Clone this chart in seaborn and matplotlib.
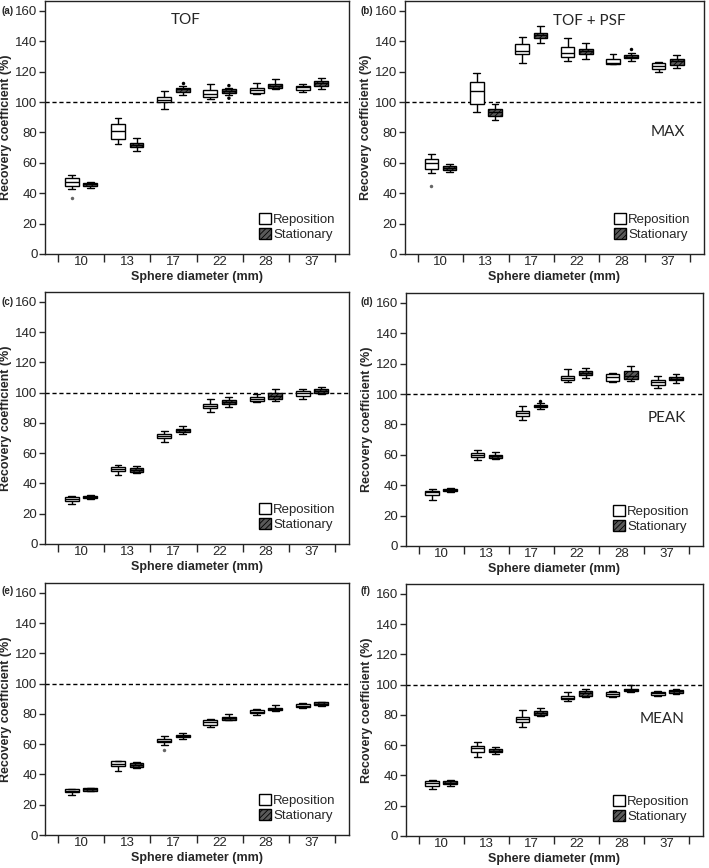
import numpy as np
import pandas as pd
import matplotlib
matplotlib.use("Agg")
import matplotlib.pyplot as plt
import seaborn as sns
from matplotlib.patches import Patch

diameters = ["10", "13", "17", "22", "28", "37"]
groups = ["Reposition", "Stationary"]

# five-number summaries per sphere: (low whisker, Q1, median, Q3, high whisker)
tof_rep = [(42.8, 45.0, 47.6, 49.8, 52.0), (72.4, 75.7, 81.2, 85.4, 89.3), (95.5, 100.3, 101.4, 103.6, 107.3),
           (101.9, 103.2, 105.1, 108.0, 112.0), (105.4, 106.2, 108.0, 109.3, 112.6), (106.5, 108.0, 109.7, 110.8, 112.0)]
tof_stat = [(43.2, 44.8, 46.0, 47.0, 47.4), (68.0, 70.2, 72.0, 73.3, 76.2), (104.7, 106.9, 108.4, 109.0, 110.6),
            (104.7, 106.2, 107.5, 108.4, 109.5), (108.4, 109.1, 110.6, 112.0, 115.2), (108.6, 110.8, 112.4, 113.9, 115.7)]

max_rep = [(53.3, 55.9, 59.9, 62.5, 66.0), (93.3, 99.0, 107.2, 113.1, 119.3), (125.9, 131.4, 133.6, 138.4, 143.0),
           (127.0, 129.8, 132.0, 136.4, 142.4), (124.8, 124.8, 125.9, 128.5, 131.4), (119.9, 121.9, 123.7, 125.9, 126.3)]
max_stat = [(54.1, 55.5, 56.8, 58.1, 59.2), (88.0, 91.1, 93.3, 95.5, 99.0), (138.6, 141.9, 143.9, 145.7, 150.0),
            (128.1, 131.4, 133.6, 134.7, 139.0), (127.0, 128.7, 129.8, 130.7, 132.0), (122.1, 124.3, 126.8, 128.1, 130.7)]

tofmax_rep = [(26.2, 28.6, 29.7, 31.2, 31.9), (45.6, 48.2, 49.3, 50.6, 51.9), (67.1, 69.8, 71.3, 72.6, 74.8),
              (87.4, 89.6, 91.1, 92.2, 95.5), (94.0, 94.6, 95.7, 97.3, 99.0), (95.7, 97.7, 99.5, 100.8, 102.1)]
tofmax_stat = [(29.5, 30.4, 31.2, 31.9, 32.6), (46.7, 47.8, 48.9, 50.2, 51.7), (72.6, 74.2, 75.0, 75.7, 77.9),
               (90.2, 92.4, 93.5, 95.1, 96.8), (94.6, 95.5, 97.7, 99.9, 102.1), (98.8, 99.9, 101.2, 102.3, 103.9)]

peak_rep = [(30.3, 33.6, 35.4, 36.3, 37.4), (56.3, 58.5, 60.0, 61.5, 63.3), (83.1, 85.7, 87.5, 88.6, 92.3),
            (107.7, 109.0, 110.5, 112.1, 116.5), (108.1, 108.4, 111.2, 113.4, 113.8), (104.0, 106.2, 107.7, 109.0, 112.1)]
peak_stat = [(35.2, 36.0, 36.9, 37.4, 38.0), (57.1, 57.8, 59.1, 60.0, 61.8), (90.1, 91.4, 92.3, 93.0, 94.1),
             (110.5, 112.3, 113.8, 115.4, 117.1), (108.6, 109.9, 112.1, 114.9, 118.2), (107.3, 109.0, 109.9, 111.2, 113.4)]

tofmean_rep = [(26.6, 28.1, 28.8, 30.1, 30.5), (42.5, 45.6, 46.9, 48.7, 49.1), (59.7, 61.5, 62.4, 63.5, 65.3),
               (71.5, 73.0, 74.8, 75.9, 76.8), (79.2, 80.8, 81.4, 82.5, 83.4), (84.1, 84.5, 85.4, 86.3, 87.0)]
tofmean_stat = [(28.8, 29.2, 30.1, 30.8, 31.0), (44.3, 44.7, 46.0, 47.4, 48.2), (63.7, 64.6, 65.5, 66.4, 67.3),
                (75.7, 76.3, 77.5, 78.3, 79.7), (81.9, 82.3, 83.4, 84.1, 85.6), (85.4, 85.9, 86.7, 87.6, 88.1)]

mean_rep = [(30.9, 33.1, 34.7, 36.0, 36.9), (51.9, 55.8, 58.0, 59.6, 61.8), (72.2, 75.0, 77.2, 78.8, 83.2),
            (88.9, 90.3, 91.1, 92.7, 94.9), (92.0, 92.7, 93.8, 94.9, 95.6), (92.7, 93.4, 94.2, 94.9, 95.6)]
mean_stat = [(33.3, 34.2, 35.1, 36.0, 36.9), (54.1, 55.2, 56.3, 57.6, 58.5), (79.2, 80.1, 81.4, 82.8, 84.3),
             (92.0, 92.7, 94.5, 96.0, 96.9), (94.9, 95.6, 96.4, 97.1, 100.0), (93.8, 94.7, 95.6, 96.4, 97.1)]

# outliers: (panel, diameter, group, value)
outliers = [("a", "10", "Reposition", 36.7), ("a", "17", "Stationary", 112.4),
            ("a", "22", "Stationary", 110.8), ("a", "22", "Stationary", 102.5),
            ("b", "10", "Reposition", 44.9), ("b", "28", "Stationary", 134.7),
            ("d", "17", "Stationary", 95.6), ("e", "17", "Reposition", 56.4)]

panels = [
    ("a", tof_rep, tof_stat, [0.0635, 0.7074, 0.4288, 0.2915]),
    ("b", max_rep, max_stat, [0.5712, 0.7074, 0.4217, 0.2915]),
    ("c", tofmax_rep, tofmax_stat, [0.0635, 0.3733, 0.4288, 0.2903]),
    ("d", peak_rep, peak_stat, [0.5726, 0.3710, 0.4189, 0.2915]),
    ("e", tofmean_rep, tofmean_stat, [0.0635, 0.0380, 0.4288, 0.2903]),
    ("f", mean_rep, mean_stat, [0.5726, 0.0369, 0.4189, 0.2903]),
]

# annotation text inside panels: (text, x category position, y value)
annotations = {
    "a": [("TOF", 2.26, 154)],
    "b": [("TOF + PSF", 3.28, 153), ("MAX", 5.0, 80)],
    "d": [("PEAK", 5.0, 84)],
    "f": [("MEAN", 4.9, 77)],
}
label_pos = {"a": (0.002, 0.993), "b": (0.508, 0.993), "c": (0.002, 0.658),
             "d": (0.508, 0.658), "e": (0.002, 0.325), "f": (0.508, 0.325)}

sns.set_style("ticks")
plt.rcParams["font.family"] = ["Liberation Sans", "DejaVu Sans"]
plt.rcParams["hatch.linewidth"] = 0.6

stat_face = "#5a5a5a"
palette = {"Reposition": "white", "Stationary": stat_face}


def panel_frame(rep, stat):
    rows = []
    for d, r, s in zip(diameters, rep, stat):
        for v in r:
            rows.append((d, "Reposition", v))
        for v in s:
            rows.append((d, "Stationary", v))
    return pd.DataFrame(rows, columns=["diameter", "group", "rc"])


out_df = pd.DataFrame(outliers, columns=["panel", "diameter", "group", "rc"])

fig = plt.figure(figsize=(7.09, 8.68), dpi=100)

for key, rep, stat, rect in panels:
    ax = fig.add_axes(rect)
    df = panel_frame(rep, stat)
    sns.boxplot(data=df, x="diameter", y="rc", hue="group", order=diameters,
                hue_order=groups, palette=palette, linecolor="black", linewidth=1.0,
                width=0.8, gap=0.25, whis=(0, 100), showfliers=False, legend=False, ax=ax)
    for box in ax.containers[1].boxes:
        box.set_hatch("//////")

    sub = out_df[out_df["panel"] == key]
    if len(sub):
        sns.stripplot(data=sub, x="diameter", y="rc", hue="group", order=diameters,
                      hue_order=groups, dodge=True, jitter=False, size=2.5,
                      palette={"Reposition": "#666666", "Stationary": "black"},
                      legend=False, ax=ax)

    ax.axhline(100, color="black", lw=1, ls=(0, (3, 2)), zorder=0.5)

    ax.set_xlim(-0.78, 5.8)
    ax.set_ylim(0, 166.5)
    ax.set_yticks(np.arange(0, 161, 20))
    ax.set_xticks(np.arange(-0.5, 6, 1))
    ax.set_xticklabels([])
    ax.set_xticks(range(6), diameters, minor=True)
    ax.tick_params(axis="x", which="major", length=6, width=1, direction="out")
    ax.tick_params(axis="x", which="minor", length=0, pad=1.5, labelsize=9.5)
    ax.tick_params(axis="y", length=4, width=1, pad=1.5, labelsize=9.5)
    for sp in ax.spines.values():
        sp.set_visible(True)
        sp.set_linewidth(1)
        sp.set_color("#222222")

    ax.set_xlabel("Sphere diameter (mm)", fontsize=9, fontweight="bold", labelpad=2)
    ax.set_ylabel("Recovery coefficient (%)", fontsize=9, fontweight="bold", labelpad=2)

    handles = [Patch(facecolor="white", edgecolor="black", label="Reposition"),
               Patch(facecolor=stat_face, edgecolor="black", hatch="//////", label="Stationary")]
    ax.legend(handles=handles, loc="lower right", frameon=False, fontsize=9.5,
              handlelength=0.9, handleheight=0.9, handletextpad=0.15,
              labelspacing=0.15, borderaxespad=0.6)

    for txt, x, y in annotations.get(key, []):
        ax.text(x, y, txt, ha="center", va="center", fontsize=11, family="Lato")

    lx, ly = label_pos[key]
    fig.text(lx, ly, f"({key})", fontsize=7, fontweight="bold", va="top", ha="left")

fig.savefig("out.png", dpi=100)
